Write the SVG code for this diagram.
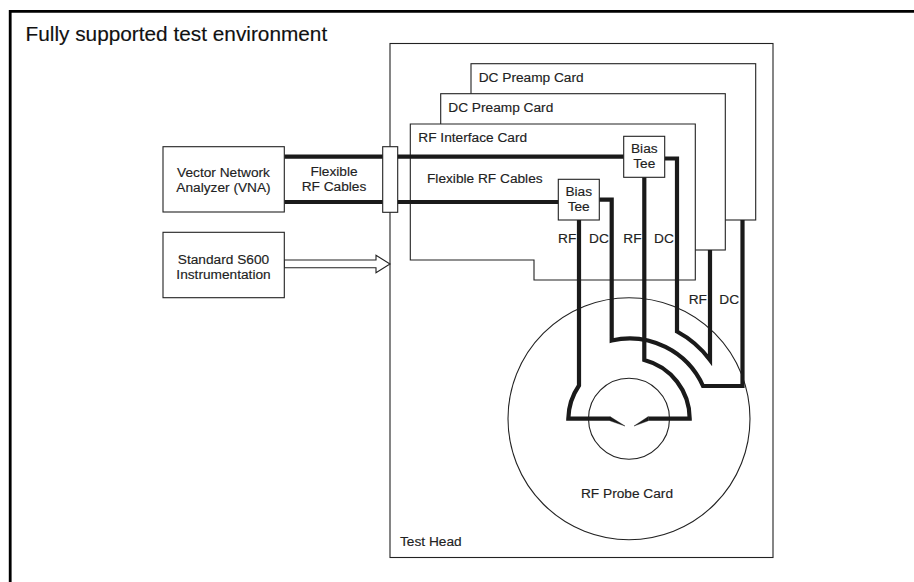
<svg xmlns="http://www.w3.org/2000/svg" width="914" height="582" viewBox="0 0 914 582">
<style>
text{font-family:"Liberation Sans",Arial,sans-serif;font-size:13.7px;fill:#222;stroke:#222;stroke-width:.15px}
.m{text-anchor:middle}
.b{fill:#fff;stroke:#222;stroke-width:1.1}
.c{fill:none;stroke:#1a1a1a;stroke-width:4.2;stroke-miterlimit:6}
</style>
<rect width="914" height="582" fill="#fff"/>
<path d="M10.2 582V11.3H914" fill="none" stroke="#000" stroke-width="2.8"/>
<text x="25.5" y="40.7" style="font-size:20.8px;fill:#111;stroke:#111">Fully supported test environment</text>
<g id="test-head"><rect class="b" x="390" y="43.5" width="383" height="514"/><text x="400" y="546">Test Head</text></g>
<g id="dc-card-1"><rect class="b" x="471" y="63.7" width="284.7" height="156.3"/><text x="478.7" y="82.3">DC Preamp Card</text></g>
<g id="dc-card-2"><rect class="b" x="440.7" y="93.7" width="284.6" height="156.3"/><text x="448.3" y="112.3">DC Preamp Card</text></g>
<g id="rf-card"><path class="b" d="M410.3 124H695.3V280H534V260H410.3Z"/><text x="418.3" y="142.3">RF Interface Card</text><text x="427" y="183.3">Flexible RF Cables</text></g>
<g id="probe-card"><circle class="b" cx="629" cy="418.7" r="121"/><circle cx="629" cy="418.7" r="40.5" fill="none" stroke="#222" stroke-width="1.1"/><text class="m" x="627" y="498">RF Probe Card</text></g>
<g id="connectors">
<path class="c" d="M284.3 156.7H624M284.3 202H559"/>
<path class="c" d="M664.7 158.5H677V331.5A100 100 0 0 1 710 360V250"/>
<path class="c" d="M599.3 199.7H611.7V340.5A80.7 80.7 0 0 1 703 386H742.5V220"/>
<path class="c" d="M644.3 177V360A60.7 60.7 0 0 1 689.7 418.7H648.3"/>
<path class="c" d="M579 220V385.5A60.7 60.7 0 0 0 568.3 418.7H610"/>
<path d="M610 416.6 625 426 610 420.8ZM648.3 416.6 634 426 648.3 420.8Z" fill="#1a1a1a" stroke="#1a1a1a" stroke-width=".4"/>
<path d="M284.3 260H376V255.3L390 264 376 272.7V267.7H284.3Z" fill="#fff" stroke="#222" stroke-width="1.1"/>
</g>
<g id="vna"><rect class="b" x="163" y="146.7" width="121.3" height="65.3"/><text class="m" x="223.5" y="177.3">Vector Network</text><text class="m" x="223.5" y="192.3">Analyzer (VNA)</text></g>
<g id="s600"><rect class="b" x="163" y="232.3" width="121.3" height="65.4"/><text class="m" x="223.5" y="264">Standard S600</text><text class="m" x="223.5" y="279">Instrumentation</text></g>
<text class="m" x="334" y="176">Flexible</text><text class="m" x="334" y="191">RF Cables</text>
<g id="feedthrough"><rect class="b" x="382.7" y="146.7" width="15" height="65.6"/></g>
<g id="bias-tee-1"><rect class="b" x="623.7" y="136.3" width="41" height="41"/><text class="m" x="644.3" y="153">Bias</text><text class="m" x="644.3" y="168.3">Tee</text></g>
<g id="bias-tee-2"><rect class="b" x="558.3" y="179.3" width="41" height="40.7"/><text class="m" x="578.7" y="196">Bias</text><text class="m" x="578.7" y="211">Tee</text></g>
<text x="558" y="242.7">RF</text><text x="589" y="242.7">DC</text><text x="623.3" y="242.7">RF</text><text x="654" y="242.7">DC</text><text x="688.7" y="304">RF</text><text x="719.3" y="304">DC</text>
</svg>
